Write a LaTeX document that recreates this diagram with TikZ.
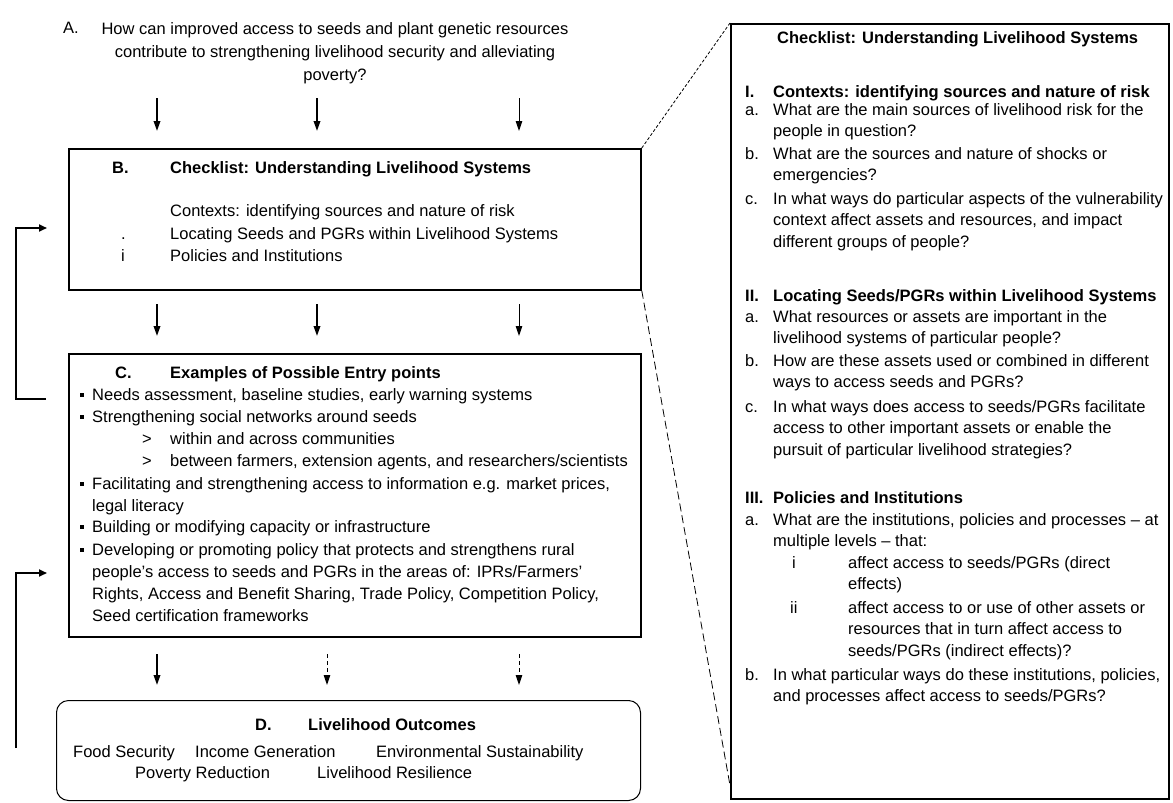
\documentclass[tikz,border=0pt]{standalone}
\usepackage{fontspec}
\setmainfont{Liberation Sans}
\usetikzlibrary{arrows.meta}
\newcommand{\sqb}{\rule[0.2em]{4pt}{4pt}}
\begin{document}
\begin{tikzpicture}[x=1pt,y=-1pt,
  txt/.style={anchor=base west, inner sep=0pt, align=left, font=\fontsize{16.5}{21.5}\selectfont},
  txtl/.style={anchor=base west, inner sep=0pt, align=left, font=\fontsize{16.5}{22.3}\selectfont},
  txtc/.style={anchor=base, inner sep=0pt, align=center, font=\fontsize{16.5}{23}\selectfont},
  hd/.style={txt, font=\fontsize{16.5}{21.5}\selectfont\bfseries},
  box/.style={draw, line width=1.8pt, inner sep=0pt, anchor=north west},
  dn/.style={line width=1.8pt, -{Triangle[length=10pt,width=6.5pt]}},
  dnthin/.style={line width=1pt, -{Triangle[length=10pt,width=6.5pt]}},
  dndash/.style={line width=1pt, dash pattern=on 4pt off 3pt, -{Triangle[length=10pt,width=6.5pt]}},
  fb/.style={line width=1.8pt, -{Triangle[length=8pt,width=7pt]}},
  link/.style={line width=0.8pt, dash pattern=on 3pt off 2pt}
]
\useasboundingbox (0,0) rectangle (1173,803);
\fill[white] (0,0) rectangle (1173,803);

% ---------- A (multi-line nodes are anchored at the last line's baseline) ----------
\node[txt] (Alab) at (63,34) {A.};
\node[txtc] (A) at (335,80) {How can improved access to seeds and plant genetic resources\\contribute to strengthening livelihood security and alleviating\\poverty?};

% ---------- boxes ----------
\node[box, minimum width=572pt, minimum height=141pt] (B) at (68,148) {};
\node[box, minimum width=572pt, minimum height=283pt] (C) at (68,353) {};
\node[draw, line width=1pt, rounded corners=12pt, inner sep=0pt, anchor=north west,
      minimum width=584pt, minimum height=100pt] (D) at (56,700) {};
\node[draw, line width=2.4pt, inner sep=0pt, anchor=north west,
      minimum width=438pt, minimum height=775pt] (R) at (730,23) {};

% ---------- arrows between blocks ----------
\coordinate (a1s) at (157,98); \coordinate (a1e) at (157,131);
\coordinate (a2s) at (317,98); \coordinate (a2e) at (317,131);
\coordinate (a3s) at (519,98); \coordinate (a3e) at (519,131);
\draw[dn] (a1s) -- (a1e);
\draw[dn] (a2s) -- (a2e);
\draw[dnthin] (a3s) -- (a3e);

\coordinate (b1s) at (157,304); \coordinate (b1e) at (157,336);
\coordinate (b2s) at (317,304); \coordinate (b2e) at (317,336);
\coordinate (b3s) at (519,304); \coordinate (b3e) at (519,336);
\draw[dn] (b1s) -- (b1e);
\draw[dn] (b2s) -- (b2e);
\draw[dnthin] (b3s) -- (b3e);

\coordinate (c1s) at (157,654); \coordinate (c1e) at (157,685);
\coordinate (c2s) at (327,654); \coordinate (c2e) at (327,685);
\coordinate (c3s) at (519,654); \coordinate (c3e) at (519,685);
\draw[dn] (c1s) -- (c1e);
\draw[dndash] (c2s) -- (c2e);
\draw[dndash] (c3s) -- (c3e);

% ---------- feedback arrows ----------
\coordinate (f1a) at (46,399); \coordinate (f1b) at (47,228);
\draw[fb] (f1a) -- ++(-30,0) |- (f1b);
\coordinate (f2a) at (16,748); \coordinate (f2b) at (47,573);
\draw[fb] (f2a) |- (f2b);

% ---------- zoom links ----------
\draw[link] (B.north east) -- (R.north west);
\draw[link, dash pattern=on 8pt off 4pt] (B.south east) -- ([yshift=15pt]R.south west);

% ---------- B text ----------
\node[hd] (Blab) at (112,173) {B.};
\node[hd] (Bhead) at (170,173) {Checklist: Understanding Livelihood Systems};
\node[txt] (Bi1) at (170,216) {Contexts: identifying sources and nature of risk};
\node[txt] (Bn2) at (121,239) {.};
\node[txt] (Bi2) at (170,239) {Locating Seeds and PGRs within Livelihood Systems};
\node[txt] (Bn3) at (121,261) {i};
\node[txt] (Bi3) at (170,261) {Policies and Institutions};

% ---------- C text ----------
\node[hd] (Clab) at (115,378) {C.};
\node[hd] (Chead) at (170,378) {Examples of Possible Entry points};
\node[txt] (Cb1) at (80,400) {\sqb};
\node[txtl] (Ct1) at (92,400) {Needs assessment, baseline studies, early warning systems};
\node[txt] (Cb2) at (80,422) {\sqb};
\node[txtl] (Ct2) at (92,422) {Strengthening social networks around seeds};
\node[txt] (Cs1) at (142,444) {\textgreater};
\node[txtl] (Ct2a) at (170,444) {within and across communities};
\node[txt] (Cs2) at (142,466) {\textgreater};
\node[txtl] (Ct2b) at (170,466) {between farmers, extension agents, and researchers/scientists};
\node[txt] (Cb3) at (80,489) {\sqb};
\node[txtl] (Ct3) at (92,511.3) {Facilitating and strengthening access to information e.g. market prices,\\legal literacy};
\node[txt] (Cb4) at (80,532) {\sqb};
\node[txtl] (Ct4) at (92,532) {Building or modifying capacity or infrastructure};
\node[txt] (Cb5) at (80,555) {\sqb};
\node[txtl] (Ct5) at (92,621.9) {Developing or promoting policy that protects and strengthens rural\\people's access to seeds and PGRs in the areas of: IPRs/Farmers'\\Rights, Access and Benefit Sharing, Trade Policy, Competition Policy,\\Seed certification frameworks};

% ---------- D text ----------
\node[hd] (Dlab) at (255,730) {D.};
\node[hd] (Dhead) at (308,730) {Livelihood Outcomes};
\node[txt] (D1) at (73,757) {Food Security};
\node[txt] (D2) at (195,757) {Income Generation};
\node[txt] (D3) at (376,757) {Environmental Sustainability};
\node[txt] (D4) at (135,778) {Poverty Reduction};
\node[txt] (D5) at (317,778) {Livelihood Resilience};

% ---------- right checklist ----------
\node[hd] (Rhead) at (777,43) {Checklist: Understanding Livelihood Systems};

\node[hd] (R1n) at (745,97) {I.};
\node[hd] (R1) at (773,97) {Contexts: identifying sources and nature of risk};
\node[txt] (R1an) at (745,115) {a.};
\node[txt] (R1a) at (773,136.5) {What are the main sources of livelihood risk for the\\people in question?};
\node[txt] (R1bn) at (745,159) {b.};
\node[txt] (R1b) at (773,180.5) {What are the sources and nature of shocks or\\emergencies?};
\node[txt] (R1cn) at (745,204) {c.};
\node[txt] (R1c) at (773,247) {In what ways do particular aspects of the vulnerability\\context affect assets and resources, and impact\\different groups of people?};

\node[hd] (R2n) at (745,301) {II.};
\node[hd] (R2) at (773,301) {Locating Seeds/PGRs within Livelihood Systems};
\node[txt] (R2an) at (745,322) {a.};
\node[txt] (R2a) at (773,343.5) {What resources or assets are important in the\\livelihood systems of particular people?};
\node[txt] (R2bn) at (745,366) {b.};
\node[txt] (R2b) at (773,387.5) {How are these assets used or combined in different\\ways to access seeds and PGRs?};
\node[txt] (R2cn) at (745,412) {c.};
\node[txt] (R2c) at (773,455) {In what ways does access to seeds/PGRs facilitate\\access to other important assets or enable the\\pursuit of particular livelihood strategies?};

\node[hd] (R3n) at (745,503) {III.};
\node[hd] (R3) at (773,503) {Policies and Institutions};
\node[txt] (R3an) at (745,525) {a.};
\node[txt] (R3a) at (773,546.5) {What are the institutions, policies and processes -- at\\multiple levels -- that:};
\node[txt] (R3in) at (792,568) {i};
\node[txt] (R3i) at (848,589.5) {affect access to seeds/PGRs (direct\\effects)};
\node[txt] (R3iin) at (790,613) {ii};
\node[txt] (R3ii) at (848,656) {affect access to or use of other assets or\\resources that in turn affect access to\\seeds/PGRs (indirect effects)?};
\node[txt] (R3bn) at (745,680) {b.};
\node[txt] (R3b) at (773,701.5) {In what particular ways do these institutions, policies,\\and processes affect access to seeds/PGRs?};
\end{tikzpicture}
\end{document}
